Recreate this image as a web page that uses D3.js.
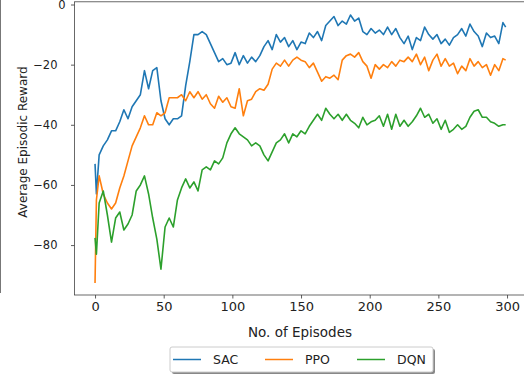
<!DOCTYPE html>
<html>
<head>
<meta charset="utf-8">
<script src="https://cdn.jsdelivr.net/npm/d3@7"></script>
<style>
  body { margin: 0; background: #fff; }
  svg { display: block; }
  text { font-family: "DejaVu Sans", sans-serif; fill: #222; }
</style>
</head>
<body>
<svg width="524" height="375"></svg>
<script>
// episodes (dense at the very start, then every 3)
const episodes = [0, 1, ...d3.range(3, 300, 3), 299];

const sac = [
  -53, -63,
  -50, -47, -45, -42, -42, -39, -35, -38, -34, -32,
  -30, -22, -28, -22, -21, -32, -38, -40, -38, -38,
  -37, -27, -19, -10, -10, -9, -10, -13, -16, -19,
  -18, -20, -19.5, -16, -20, -17, -19.5, -17.5, -19, -17,
  -14, -12, -15, -10, -12.5, -11, -14, -12, -15, -12.5,
  -13, -9.5, -11, -9, -12, -7, -5.5, -4, -7, -5.5,
  -6.5, -3.5, -5.5, -4.5, -9, -10, -8, -9.5, -8.5, -10,
  -7.5, -10, -8, -11, -13, -10.5, -15, -11, -12, -7.5,
  -10, -11.5, -10, -13, -11.5, -13.5, -11, -10, -8, -10.5,
  -6.5, -9, -10.5, -14, -9.5, -11, -10.5, -13, -6,
  -7.5
];

const ppo = [
  -92.6, -65,
  -57, -63, -66, -68, -66, -61, -57, -52, -47, -44,
  -41, -37, -40, -40, -36, -37, -36, -31, -31, -31,
  -30, -32, -29, -31, -29, -31.5, -30, -33, -34.5, -30.5,
  -32.5, -31, -34, -34.5, -28, -37, -32, -31.5, -29, -28,
  -28.5, -26.5, -21.5, -19.5, -20.5, -18.5, -20.5, -18.5, -17.5, -18.5,
  -19, -21, -19.5, -22.5, -25.5, -24, -24.5, -23.5, -25, -18.5,
  -17, -16.5, -17.5, -16, -19, -20.5, -24.5, -20, -21.5, -20,
  -21, -19, -20.5, -18.5, -19, -17.5, -19, -16.5, -20, -17.5,
  -22, -18.5, -16.5, -20.5, -18, -20.5, -19.5, -23, -20.5, -22,
  -18, -20.5, -19, -21, -20, -23.5, -20, -22, -18,
  -18.5
];

const dqn = [
  -77.6, -83,
  -66, -62, -70, -79, -71, -69, -75, -73, -70, -62,
  -60, -57, -63, -71, -78, -88, -74, -71, -74, -65,
  -61, -58, -61, -59, -62, -55, -54, -55, -52, -53,
  -51, -46, -43, -41, -43, -44, -45, -47, -46, -47,
  -50, -52, -49, -46, -45, -43, -46, -43, -44, -42,
  -43, -40.5, -38.5, -36.5, -38.5, -34.5, -36.5, -38, -36.5, -38.5,
  -36.5, -38.5, -39.5, -41, -37.5, -40, -39, -38.5, -37, -40.5,
  -36.5, -41.5, -36.5, -40.5, -38.5, -40.5, -39, -37, -34.5, -37.5,
  -36.5, -39.5, -38, -41.5, -38.5, -42.5, -41.5, -40, -41.5, -40.5,
  -37.5, -35.5, -35, -37.5, -37.5, -39, -39.5, -40.5, -40,
  -40
];

const seriesNames = ['SAC', 'PPO', 'DQN'];
const seriesColors = ['#1f77b4', '#ff7f0e', '#2ca02c'];
const xTicks = [0, 50, 100, 150, 200, 250, 300];
const yTicks = [0, -20, -40, -60, -80];

const svg = d3.select('svg');

const x = d3.scaleLinear().domain([-14.95, 313.95]).range([74.5, 526.2]);
const y = d3.scaleLinear().domain([-96.6, 0.9]).range([295, 1.8]);

// stray border line at the far left of the picture
svg.append('line')
  .attr('x1', 0.5).attr('x2', 0.5)
  .attr('y1', 0).attr('y2', 293)
  .attr('stroke', '#777').attr('stroke-width', 1);

const lines = [sac, ppo, dqn];
const lineGen = d3.line()
  .x((d, i) => x(episodes[i]))
  .y(d => y(d));

const g = svg.append('g');
lines.forEach((vals, k) => {
  g.append('path')
    .datum(vals)
    .attr('fill', 'none')
    .attr('stroke', seriesColors[k])
    .attr('stroke-width', 1.6)
    .attr('stroke-linejoin', 'round')
    .attr('d', lineGen);
});

// axes
const xAxis = d3.axisBottom(x).tickValues(xTicks).tickSize(3.5).tickPadding(3.5);
const yAxis = d3.axisLeft(y).tickValues(yTicks).tickSize(3.5).tickPadding(3.5)
  .tickFormat(d => d < 0 ? '\u2212' + Math.abs(d) : d);

const gx = svg.append('g').attr('transform', `translate(0,${y.range()[0]})`).call(xAxis);
const gy = svg.append('g').attr('transform', `translate(${x.range()[0]},0)`).call(yAxis);

[gx, gy].forEach(a => {
  a.select('.domain').remove();
  a.selectAll('.tick line').attr('stroke', '#333').attr('stroke-width', 0.8);
  a.selectAll('.tick text').attr('fill', '#222')
    .style('font-family', '"DejaVu Sans", sans-serif');
});
gx.selectAll('.tick text').attr('font-size', 13);
gy.selectAll('.tick text').attr('font-size', 11.5)
  .attr('x', d => d < 0 ? -17 : -9);

// spines
const [x0, x1] = x.range();
const [yb, yt] = y.range();
svg.append('rect')
  .attr('x', x0).attr('y', yt)
  .attr('width', x1 - x0).attr('height', yb - yt)
  .attr('fill', 'none').attr('stroke', '#444').attr('stroke-width', 0.8);

// axis labels
svg.append('text')
  .attr('x', 300).attr('y', 337)
  .attr('text-anchor', 'middle')
  .attr('font-size', 13.5)
  .text('No. of Episodes');

svg.append('text')
  .attr('transform', 'translate(27,142) rotate(-90)')
  .attr('text-anchor', 'middle')
  .attr('font-size', 12)
  .text('Average Episodic Reward');

// legend
const lg = svg.append('g').attr('transform', 'translate(170,347)');
lg.append('rect')
  .attr('x', 2).attr('y', 2).attr('width', 263).attr('height', 25)
  .attr('rx', 2).attr('fill', '#888');
lg.append('rect')
  .attr('x', 0).attr('y', 0).attr('width', 263).attr('height', 25)
  .attr('rx', 2).attr('fill', '#fff').attr('stroke', '#ccc');

const itemX = [3, 95, 187];
seriesNames.forEach((name, k) => {
  const it = lg.append('g').attr('transform', `translate(${itemX[k]},12.5)`);
  it.append('line')
    .attr('x1', 0).attr('x2', 28)
    .attr('stroke', seriesColors[k]).attr('stroke-width', 1.5);
  it.append('text')
    .attr('x', 40).attr('dy', '0.35em')
    .attr('font-size', 12.5)
    .text(name);
});
</script>
</body>
</html>
